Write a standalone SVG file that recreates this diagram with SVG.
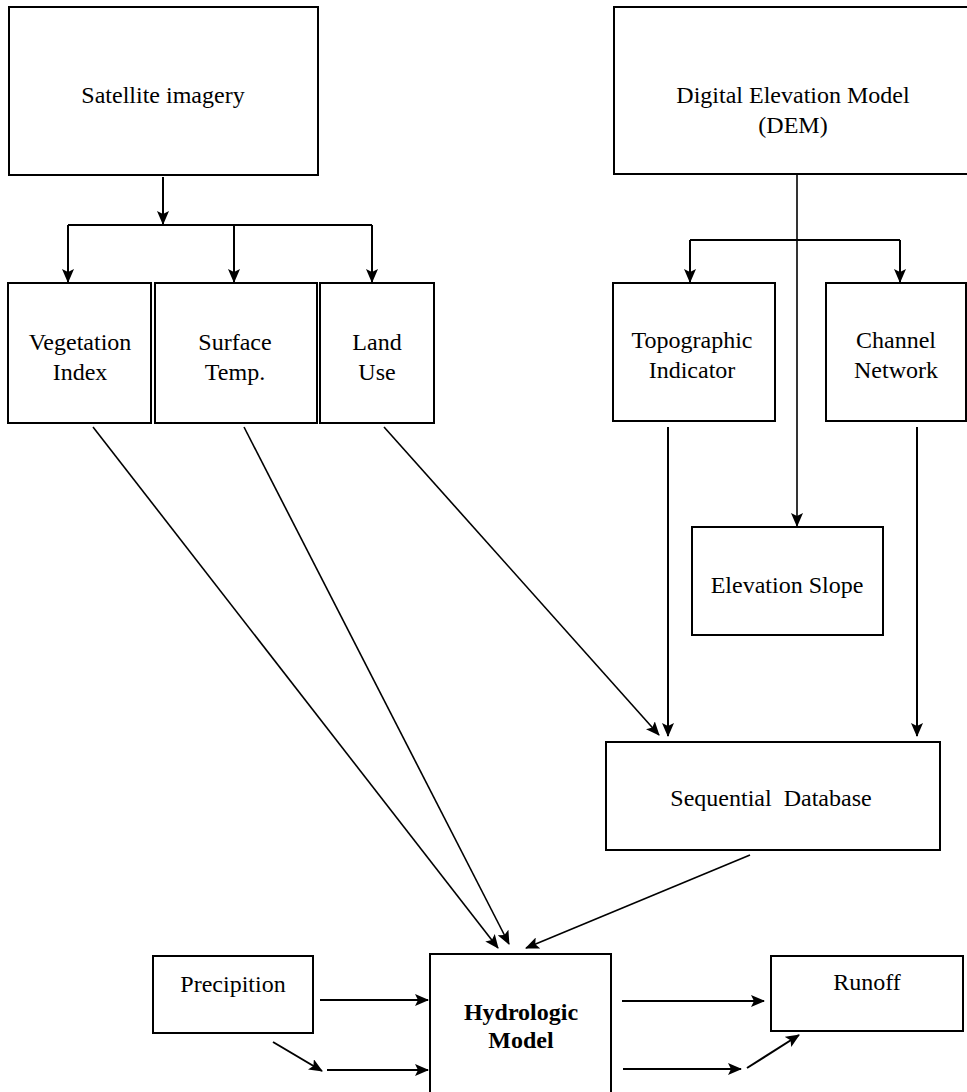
<svg xmlns="http://www.w3.org/2000/svg" width="967" height="1092" viewBox="0 0 967 1092">
<style>
.box{fill:#fff;stroke:#000;stroke-width:2}
.t{font-family:"Liberation Serif","Times New Roman",serif;font-size:24px;fill:#000;text-anchor:middle}
.b{font-weight:bold}
.c{fill:none;stroke:#000;stroke-width:2}
.d{fill:none;stroke:#000;stroke-width:1.6}
</style>
<defs>
<marker id="ah" markerUnits="userSpaceOnUse" markerWidth="14" markerHeight="12" viewBox="0 0 14 12" refX="13" refY="6" orient="auto">
<path d="M0,0 L14,6 L0,12 L3,6 z" fill="#000"/>
</marker>
</defs>
<rect width="967" height="1092" fill="#fff"/>
<g id="satellite"><rect class="box" x="9" y="7" width="309" height="168"/><text class="t" x="163" y="103">Satellite imagery</text></g>
<g id="dem"><rect class="box" x="614" y="7" width="360" height="167"/><text class="t" x="793" y="103">Digital Elevation Model</text><text class="t" x="793" y="133">(DEM)</text></g>
<g id="vegetation"><rect class="box" x="8" y="283" width="143" height="140"/><text class="t" x="80" y="350">Vegetation</text><text class="t" x="80" y="380">Index</text></g>
<g id="surface"><rect class="box" x="155" y="283" width="162" height="140"/><text class="t" x="235" y="350">Surface</text><text class="t" x="235" y="380">Temp.</text></g>
<g id="landuse"><rect class="box" x="320" y="283" width="114" height="140"/><text class="t" x="377" y="350">Land</text><text class="t" x="377" y="380">Use</text></g>
<g id="topographic"><rect class="box" x="613" y="283" width="162" height="138"/><text class="t" x="692" y="348">Topographic</text><text class="t" x="692" y="378">Indicator</text></g>
<g id="channel"><rect class="box" x="826" y="283" width="140" height="138"/><text class="t" x="896" y="348">Channel</text><text class="t" x="896" y="378">Network</text></g>
<g id="elevation"><rect class="box" x="692" y="527" width="191" height="108"/><text class="t" x="787" y="593">Elevation Slope</text></g>
<g id="sequential"><rect class="box" x="606" y="742" width="334" height="108"/><text class="t" x="771" y="806" xml:space="preserve">Sequential  Database</text></g>
<g id="precipition"><rect class="box" x="153" y="956" width="160" height="77"/><text class="t" x="233" y="992">Precipition</text></g>
<g id="hydrologic"><rect class="box" x="430" y="954" width="181" height="140"/><text class="t b" x="521" y="1020">Hydrologic</text><text class="t b" x="521" y="1048">Model</text></g>
<g id="runoff"><rect class="box" x="771" y="956" width="192" height="75"/><text class="t" x="867" y="990">Runoff</text></g>
<g id="connectors">
<line class="c" x1="163" y1="177" x2="163" y2="224" marker-end="url(#ah)"/>
<line class="c" x1="68" y1="225" x2="372" y2="225"/>
<line class="c" x1="68" y1="225" x2="68" y2="282" marker-end="url(#ah)"/>
<line class="c" x1="234" y1="225" x2="234" y2="282" marker-end="url(#ah)"/>
<line class="c" x1="372" y1="225" x2="372" y2="282" marker-end="url(#ah)"/>
<line class="d" x1="797" y1="175" x2="797" y2="526" marker-end="url(#ah)"/>
<line class="c" x1="690" y1="240" x2="900" y2="240"/>
<line class="c" x1="690" y1="240" x2="690" y2="282" marker-end="url(#ah)"/>
<line class="c" x1="900" y1="240" x2="900" y2="282" marker-end="url(#ah)"/>
<line class="c" x1="668" y1="427" x2="668" y2="736" marker-end="url(#ah)"/>
<line class="c" x1="917" y1="427" x2="917" y2="736" marker-end="url(#ah)"/>
<line class="d" x1="384" y1="427" x2="659" y2="735" marker-end="url(#ah)"/>
<line class="d" x1="93" y1="427" x2="498" y2="948" marker-end="url(#ah)"/>
<line class="d" x1="244" y1="427" x2="509" y2="944" marker-end="url(#ah)"/>
<line class="d" x1="750" y1="855" x2="526" y2="948" marker-end="url(#ah)"/>
<line class="c" x1="320" y1="1000" x2="428" y2="1000" marker-end="url(#ah)"/>
<line class="c" x1="273" y1="1042" x2="322" y2="1071" marker-end="url(#ah)"/>
<line class="c" x1="327" y1="1070" x2="428" y2="1070" marker-end="url(#ah)"/>
<line class="c" x1="622" y1="1001" x2="764" y2="1001" marker-end="url(#ah)"/>
<line class="c" x1="623" y1="1069" x2="741" y2="1069" marker-end="url(#ah)"/>
<line class="c" x1="747" y1="1068" x2="799" y2="1035" marker-end="url(#ah)"/>
</g>
</svg>
